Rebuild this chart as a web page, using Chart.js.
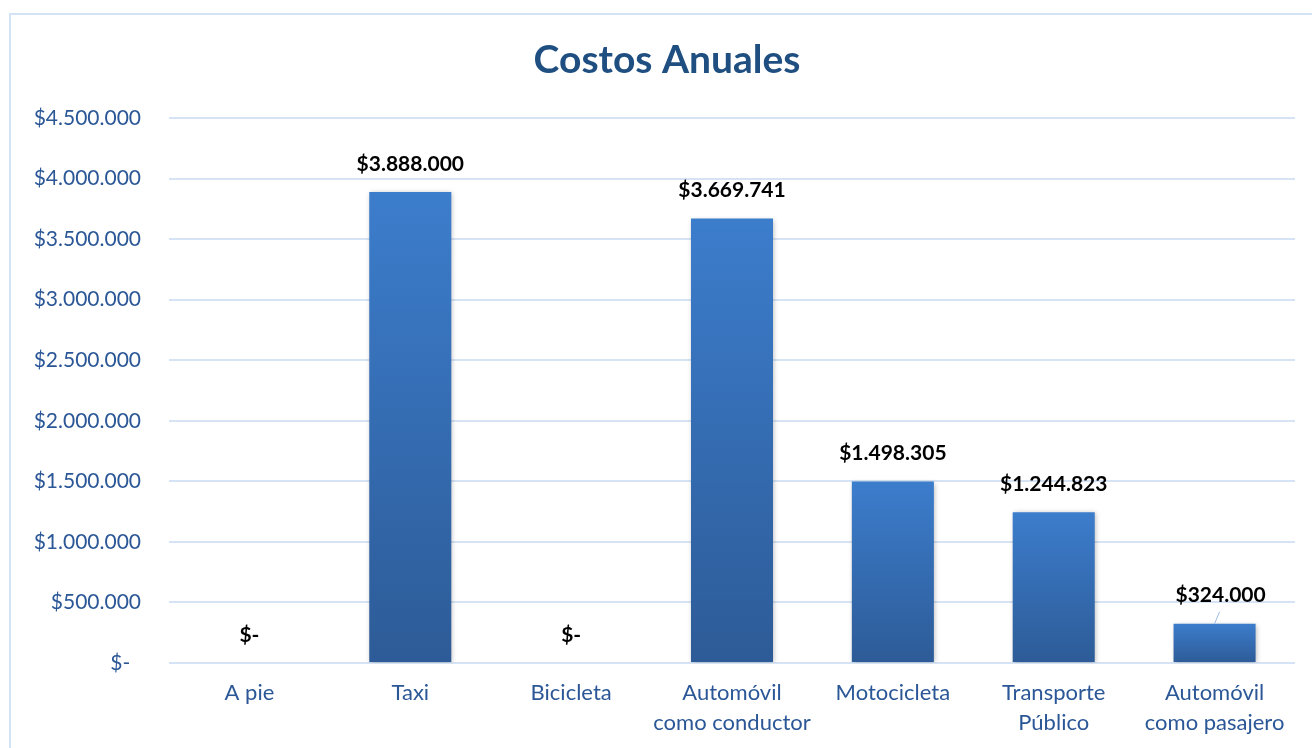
<!DOCTYPE html>
<html lang="es">
<head>
    <meta charset="UTF-8">
    <title>Costos Anuales</title>
    <script src="https://cdn.jsdelivr.net/npm/chart.js@4"></script>
    <style>
        html, body { margin: 0; padding: 0; background: #fff; }
        #wrap { width: 1312px; height: 748px; position: relative; }
    </style>
</head>
<body>
<div id="wrap"><canvas id="myChart" width="1312" height="748"></canvas></div>
<script>
    // datos
    const categorias = [
        "A pie",
        "Taxi",
        "Bicicleta",
        ["Automóvil", "como conductor"],
        "Motocicleta",
        ["Transporte", "Público"],
        ["Automóvil", "como pasajero"]
    ];
    const costos = [0, 3888000, 0, 3669741, 1498305, 1244823, 324000];
    const ticksY = [0, 500000, 1000000, 1500000, 2000000, 2500000, 3000000, 3500000, 4000000, 4500000];
    const titulo = "Costos Anuales";

    function fMoneda(v){
        if (v === 0) return "$-";
        return "$" + Math.round(v).toString().replace(/\B(?=(\d{3})+(?!\d))/g, ".");
    }

    const azulTexto = "#2B5797";

    // degradado por barra
    function colorBarra(context){
        const chart = context.chart;
        const y = chart.scales.y;
        if (!chart.chartArea || !y) return "#3A78C4";
        const v = context.raw;
        const top = y.getPixelForValue(v);
        const base = y.getPixelForValue(0);
        if (!isFinite(top) || base - top < 1) return "#3A78C4";
        const g = chart.ctx.createLinearGradient(0, top, 0, base);
        g.addColorStop(0, "#3C7DCC");
        g.addColorStop(1, "#2D5B97");
        return g;
    }

    const marcoPlugin = {
        id: 'marco',
        beforeDraw(chart){
            const c = chart.ctx;
            c.save();
            c.strokeStyle = "#D3E2F4";
            c.lineWidth = 2;
            c.strokeRect(10, 14, 1330, 760);
            // titulo
            c.font = "bold 39px Lato";
            c.fillStyle = "#1F4E80";
            c.textAlign = "center";
            c.textBaseline = "middle";
            c.fillText(titulo, 667, 60);
            c.restore();
        }
    };

    const sombraPlugin = {
        id: 'sombra',
        beforeDatasetsDraw(chart){
            const c = chart.ctx;
            c.save();
            c.shadowColor = "rgba(0,0,0,0.28)";
            c.shadowBlur = 5;
            c.shadowOffsetX = 1;
            c.shadowOffsetY = 1;
        },
        afterDatasetsDraw(chart){
            chart.ctx.restore();
        }
    };

    const etiquetasPlugin = {
        id: 'etiquetas',
        afterDatasetsDraw(chart){
            const c = chart.ctx;
            const meta = chart.getDatasetMeta(0);
            c.save();
            c.font = "bold 21px Lato";
            c.fillStyle = "#000";
            c.textAlign = "center";
            c.textBaseline = "middle";
            meta.data.forEach((bar, i) => {
                const v = costos[i];
                let x = bar.x;
                let y = bar.y - 28;
                if (i === costos.length - 1) {
                    y = bar.y - 29;
                    c.strokeStyle = "#9DBCE4";
                    c.lineWidth = 1;
                    c.beginPath();
                    c.moveTo(bar.x, bar.y);
                    c.lineTo(bar.x + 5, bar.y - 12);
                    c.stroke();
                    x = bar.x + 6;
                }
                c.fillText(fMoneda(v), x, y);
            });
            c.restore();
        }
    };

    const ctx = document.getElementById('myChart').getContext('2d');
    new Chart(ctx, {
        type: 'bar',
        data: {
            labels: categorias,
            datasets: [{
                label: titulo,
                data: costos,
                backgroundColor: colorBarra,
                borderWidth: 0,
                categoryPercentage: 1,
                barPercentage: 0.51
            }]
        },
        plugins: [marcoPlugin, sombraPlugin, etiquetasPlugin],
        options: {
            responsive: false,
            animation: false,
            layout: { padding: { left: 0, right: 17, top: 118, bottom: 0 } },
            plugins: {
                legend: { display: false },
                tooltip: { enabled: false },
                title: { display: false }
            },
            scales: {
                x: {
                    grid: { display: false, drawTicks: false },
                    border: { display: false },
                    ticks: {
                        color: azulTexto,
                        font: { family: 'Lato', size: 22, lineHeight: 1.36 },
                        padding: 15,
                        maxRotation: 0,
                        autoSkip: false
                    },
                    afterFit(s){ s.height = 85; }
                },
                y: {
                    min: 0,
                    max: 4500000,
                    afterBuildTicks(s){ s.ticks = ticksY.map(v => ({ value: v })); },
                    grid: { color: '#D5E3F4', lineWidth: 2, drawTicks: false },
                    border: { display: false },
                    ticks: {
                        color: azulTexto,
                        font: { family: 'Lato', size: 21 },
                        padding: 28,
                        callback: v => v === 0 ? "$-  " : fMoneda(v)
                    },
                    afterFit(s){ s.width = 169; }
                }
            }
        }
    });
</script>
</body>
</html>
